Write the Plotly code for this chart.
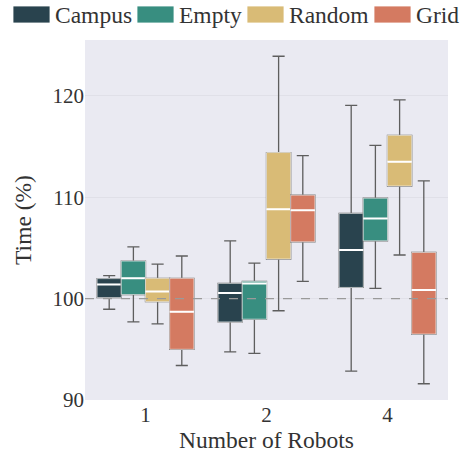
import plotly.graph_objects as go

robots = ["1", "2", "4"]
series = ["Campus", "Empty", "Random", "Grid"]
colors = ["#29434e", "#388e80", "#d9bb76", "#d47a61"]

# box statistics per series, one value per robot count
lower = {
    "Campus": [98.95, 94.75, 92.85],
    "Empty": [97.7, 94.6, 101.0],
    "Random": [97.5, 98.8, 104.3],
    "Grid": [93.4, 101.7, 91.6],
}
q1 = {
    "Campus": [100.1, 97.7, 101.1],
    "Empty": [100.4, 97.97, 105.7],
    "Random": [99.7, 103.9, 111.1],
    "Grid": [95.0, 105.6, 96.5],
}
median = {
    "Campus": [101.4, 100.55, 104.8],
    "Empty": [102.0, 101.5, 107.9],
    "Random": [100.7, 108.8, 113.5],
    "Grid": [98.7, 108.7, 100.85],
}
q3 = {
    "Campus": [101.97, 101.5, 108.4],
    "Empty": [103.7, 101.7, 109.9],
    "Random": [102.0, 114.4, 116.1],
    "Grid": [102.0, 110.2, 104.55],
}
upper = {
    "Campus": [102.26, 105.7, 119.05],
    "Empty": [105.1, 103.5, 115.1],
    "Random": [103.4, 123.9, 119.6],
    "Grid": [104.2, 114.1, 111.6],
}

font = "Liberation Serif, Times New Roman, serif"
W, H = 470, 456
L, R, T, B = 85, 22, 40, 56
big = 23.5

fig = go.Figure()
for name, col in zip(series, colors):
    # whiskers in gray
    fig.add_trace(go.Box(
        x=robots, q1=q1[name], median=median[name], q3=q3[name],
        lowerfence=lower[name], upperfence=upper[name],
        name=name, offsetgroup=name, showlegend=False,
        fillcolor=col, line=dict(color="#5e5e5e", width=1.3),
        whiskerwidth=0.5, boxpoints=False, hoverinfo="skip",
    ))
    # box body with light edge
    fig.add_trace(go.Box(
        x=robots, q1=q1[name], median=median[name], q3=q3[name],
        lowerfence=q1[name], upperfence=q3[name],
        name=name, offsetgroup=name, showlegend=False,
        fillcolor=col, line=dict(color="rgba(255,255,255,0.6)", width=1),
        whiskerwidth=0, boxpoints=False, hoverinfo="skip",
    ))
    # white median line
    fig.add_trace(go.Box(
        x=robots, q1=median[name], median=median[name], q3=median[name],
        lowerfence=median[name], upperfence=median[name],
        name=name, offsetgroup=name, showlegend=False,
        fillcolor=col, line=dict(color="white", width=2),
        whiskerwidth=0, boxpoints=False, hoverinfo="skip",
    ))

fig.add_hline(y=100, line=dict(color="#9a9a9a", width=1.3, dash="dash"))

# legend drawn by hand so the swatches are wide rectangles like the original
def px_x(p):
    return (p - L) / (W - L - R)

def px_y(p):
    return (H - B - p) / (H - T - B)

swatch_left = [13, 137, 247, 374]
for name, col, sx in zip(series, colors, swatch_left):
    fig.add_shape(
        type="rect", xref="paper", yref="paper",
        x0=px_x(sx), x1=px_x(sx + 37), y0=px_y(23), y1=px_y(6),
        fillcolor=col, line=dict(color="rgba(255,255,255,0.8)", width=1),
    )
    fig.add_annotation(
        text=name, xref="paper", yref="paper", x=px_x(sx + 40), y=px_y(15),
        xanchor="left", yanchor="middle", showarrow=False,
        font=dict(family=font, size=big, color="#333333"),
    )

fig.update_layout(
    width=W, height=H,
    margin=dict(l=L, r=R, t=T, b=B, autoexpand=False),
    paper_bgcolor="white", plot_bgcolor="#eaeaf2",
    boxmode="group", boxgap=0.2, boxgroupgap=0,
    font=dict(family=font, size=21, color="#333333"),
    showlegend=False,
)
fig.update_xaxes(
    type="category", title=dict(text="Number of Robots", standoff=3,
                                font=dict(family=font, size=big)),
    showgrid=False, zeroline=False, ticks="", automargin=False,
    tickfont=dict(family=font, size=21),
)
fig.update_yaxes(
    title=dict(text="Time (%)", standoff=14, font=dict(family=font, size=big)),
    range=[90, 125.5], tickvals=[90, 100, 110, 120], showgrid=True,
    gridcolor="#e0e0e8", zeroline=False, ticks="", automargin=False,
    tickfont=dict(family=font, size=21),
)

fig.write_html("out.html", config={"displayModeBar": False},
               post_script="document.body.style.margin='0';")
